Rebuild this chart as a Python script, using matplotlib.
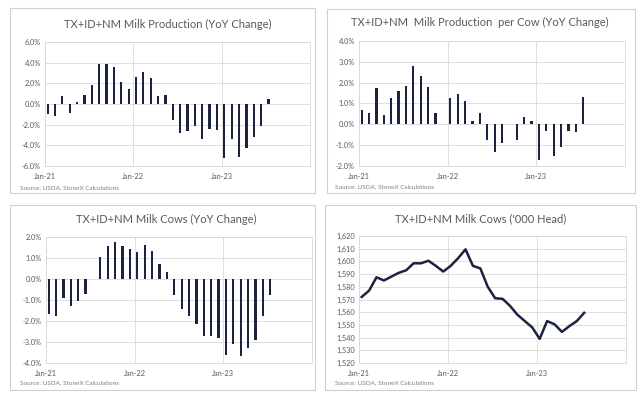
import numpy as np
import matplotlib
matplotlib.use("Agg")
import matplotlib.pyplot as plt
from matplotlib.patches import Rectangle
from matplotlib.ticker import FuncFormatter

plt.rcParams['font.family'] = ['Lato', 'DejaVu Sans']

# months Jan-21 .. Jul-23
months = ["Jan-21", "Feb-21", "Mar-21", "Apr-21", "May-21", "Jun-21", "Jul-21", "Aug-21",
          "Sep-21", "Oct-21", "Nov-21", "Dec-21", "Jan-22", "Feb-22", "Mar-22", "Apr-22",
          "May-22", "Jun-22", "Jul-22", "Aug-22", "Sep-22", "Oct-22", "Nov-22", "Dec-22",
          "Jan-23", "Feb-23", "Mar-23", "Apr-23", "May-23", "Jun-23", "Jul-23"]

prod_yoy = [-1.0, -1.2, 0.75, -0.85, 0.15, 0.9, 1.8, 3.9, 3.9, 3.6, 2.1, 1.5,
            2.6, 3.1, 2.5, 0.8, 0.9, -1.5, -2.8, -2.6, -2.1, -3.4, -2.4, -2.5,
            -5.2, -3.4, -5.1, -4.3, -3.2, -2.1, 0.5]

per_cow_yoy = [0.7, 0.55, 1.75, 0.45, 1.25, 1.6, 1.85, 2.8, 2.3, 1.8, 0.55, 0.02,
               1.25, 1.45, 1.1, 0.15, 0.55, -0.75, -1.35, -0.9, 0.02, -0.75, 0.35, 0.15,
               -1.7, -0.3, -1.5, -1.1, -0.3, -0.35, 1.3]

cows_yoy = [-1.65, -1.75, -0.9, -1.3, -1.05, -0.7, 0.0, 1.05, 1.55, 1.75, 1.55, 1.45,
            1.3, 1.6, 1.35, 0.7, 0.35, -0.75, -1.45, -1.75, -2.15, -2.7, -2.7, -2.8,
            -3.6, -3.1, -3.65, -3.3, -2.9, -1.75, -0.75]

cows_head = [1572, 1577, 1587.5, 1585, 1588, 1591, 1593, 1598.5, 1598.5, 1600.5, 1596.5, 1592,
             1596.5, 1602.5, 1609.5, 1596.5, 1594.5, 1580, 1571, 1570.5, 1565, 1558, 1553, 1548,
             1539, 1553, 1550.5, 1544.5, 1549, 1553, 1559.5]

tick_labels = ["Jan-21", "Jan-22", "Jan-23"]
source = "Source: USDA, StoneX Calculations"

navy = "#1c2340"
grid_c = "#d9d9d9"
txt_c = "#595959"

W, H = 640, 408
fig = plt.figure(figsize=(6.4, 4.08), dpi=100)


def box(x1, y1, x2, y2):
    return [x1 / W, 1 - y2 / H, (x2 - x1) / W, (y2 - y1) / H]


# chart area borders
for (x1, y1, x2, y2) in [(10, 8, 315, 193), (327, 9, 635, 193),
                         (10, 205, 315, 390), (325, 205, 636, 390)]:
    b = box(x1, y1, x2, y2)
    fig.patches.append(Rectangle((b[0], b[1]), b[2], b[3], transform=fig.transFigure,
                                 fill=False, edgecolor="#d0d0d0", lw=0.8))

x = np.arange(len(months))
pos = x + 0.36  # bars sit a little after the month gridline


def style(ax, lo, hi, step, fmt):
    ax.set_xlim(0, 36)
    ax.set_ylim(lo, hi)
    ax.set_yticks(np.arange(lo, hi + step / 2, step))
    ax.yaxis.set_major_formatter(FuncFormatter(fmt))
    ax.set_xticks([0, 12, 24])
    ax.set_xticklabels(tick_labels)
    ax.grid(True, color=grid_c, lw=0.6)
    ax.set_axisbelow(True)
    for s in ax.spines.values():
        s.set_color(grid_c)
        s.set_linewidth(0.6)
    ax.tick_params(length=0, labelsize=5.3, colors=txt_c, pad=3)
    ax.tick_params(axis="x", pad=5)


pct = lambda v, p: "%.1f%%" % v
comma = lambda v, p: "{:,.0f}".format(v)

panels = [
    (box(45, 42, 310, 166), prod_yoy, "TX+ID+NM Milk Production (YoY Change)", (-6, 6, 2), pct, 168, 24, 20, 188),
    (box(359, 41, 625, 166), per_cow_yoy, "TX+ID+NM  Milk Production  per Cow (YoY Change)", (-2, 4, 1), pct, 480, 22, 335, 187),
    (box(46, 237, 312, 363), cows_yoy, "TX+ID+NM Milk Cows (YoY Change)", (-4, 2, 1), pct, 166, 219, 20, 383),
    (box(359, 236, 626, 363), cows_head, "TX+ID+NM Milk Cows ('000 Head)", (1520, 1620, 10), comma, 481, 219, 335, 383),
]

for i, (rect, vals, title, (lo, hi, st), fmt, tx, ty, sx, sy) in enumerate(panels):
    ax = fig.add_axes(rect)
    if i < 3:
        ax.bar(pos, vals, width=0.3, color=navy)
    else:
        ax.plot(pos, vals, color=navy, lw=1.8)
    style(ax, lo, hi, st, fmt)
    fig.text(tx / W, 1 - ty / H, title, ha="center", va="center", fontsize=8, color="#595959")
    fig.text(sx / W, 1 - sy / H, source, ha="left", va="center", fontsize=4.6, color="#7f7f7f")

fig.savefig("out.png", dpi=100)
